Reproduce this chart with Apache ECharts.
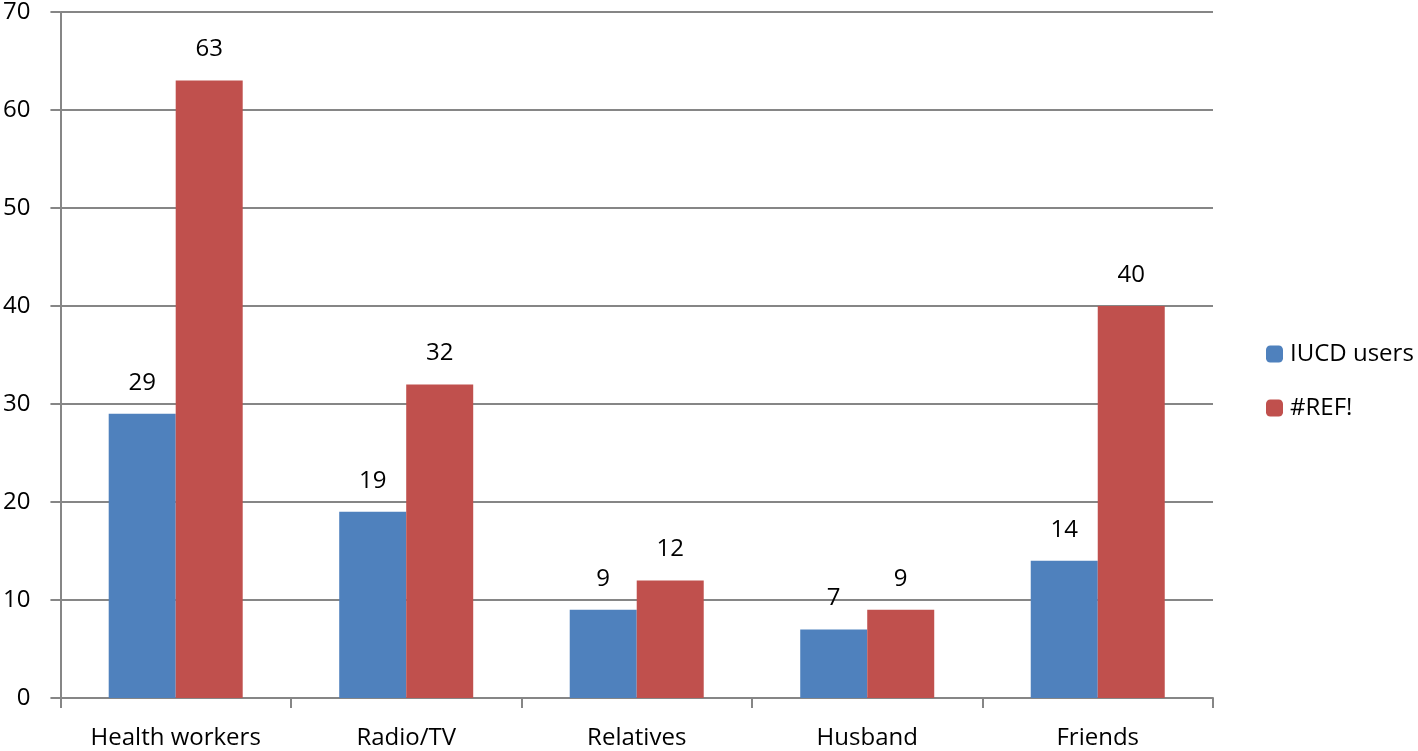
<!DOCTYPE html>
<html><head><meta charset="utf-8">
<script src="https://cdn.jsdelivr.net/npm/echarts@6/dist/echarts.min.js"></script>
<style>html,body{margin:0;padding:0;background:#fff}#c{width:1418px;height:751px}</style>
</head><body><div id="c"></div>
<script>
const categories = ['Health workers', 'Radio/TV', 'Relatives', 'Husband', 'Friends'];
const iucdUsers = [29, 19, 9, 7, 14];
const refValues = [63, 32, 12, 9, 40];
const seriesNames = ['IUCD users', '#REF!'];

const chart = echarts.init(document.getElementById('c'));
const font = 'Open Sans';
const lbl = {show: true, position: 'top', distance: 19, color: '#000', fontSize: 24, fontFamily: font};
chart.setOption({
  animation: false,
  grid: {left: 57, top: 12, right: 205, bottom: 53, containLabel: false},
  legend: {
    orient: 'vertical', left: 1261, top: 337,
    itemWidth: 17, itemHeight: 17, itemGap: 30,
    textStyle: {fontSize: 24, fontFamily: font, color: '#000', padding: [0, 0, 0, 2]},
    data: seriesNames
  },
  xAxis: {
    type: 'category', data: categories,
    axisLine: {lineStyle: {color: '#868686', width: 2}},
    axisTick: {show: true, length: 10, lineStyle: {color: '#868686', width: 2}},
    axisLabel: {fontSize: 24, fontFamily: font, color: '#000', margin: 28}
  },
  yAxis: {
    type: 'value', min: 0, max: 70, interval: 10,
    axisLine: {show: true, lineStyle: {color: '#868686', width: 2}},
    axisTick: {show: true, length: 10, lineStyle: {color: '#868686', width: 2}},
    splitLine: {lineStyle: {color: '#868686', width: 2}},
    axisLabel: {fontSize: 24, fontFamily: font, color: '#000', margin: 30}
  },
  series: [
    {name: seriesNames[0], type: 'bar', data: iucdUsers, barWidth: 67, barGap: '0%',
     itemStyle: {color: '#4F81BD'}, label: lbl},
    {name: seriesNames[1], type: 'bar', data: refValues, barWidth: 67,
     itemStyle: {color: '#C0504D'}, label: lbl}
  ]
});
</script></body></html>
